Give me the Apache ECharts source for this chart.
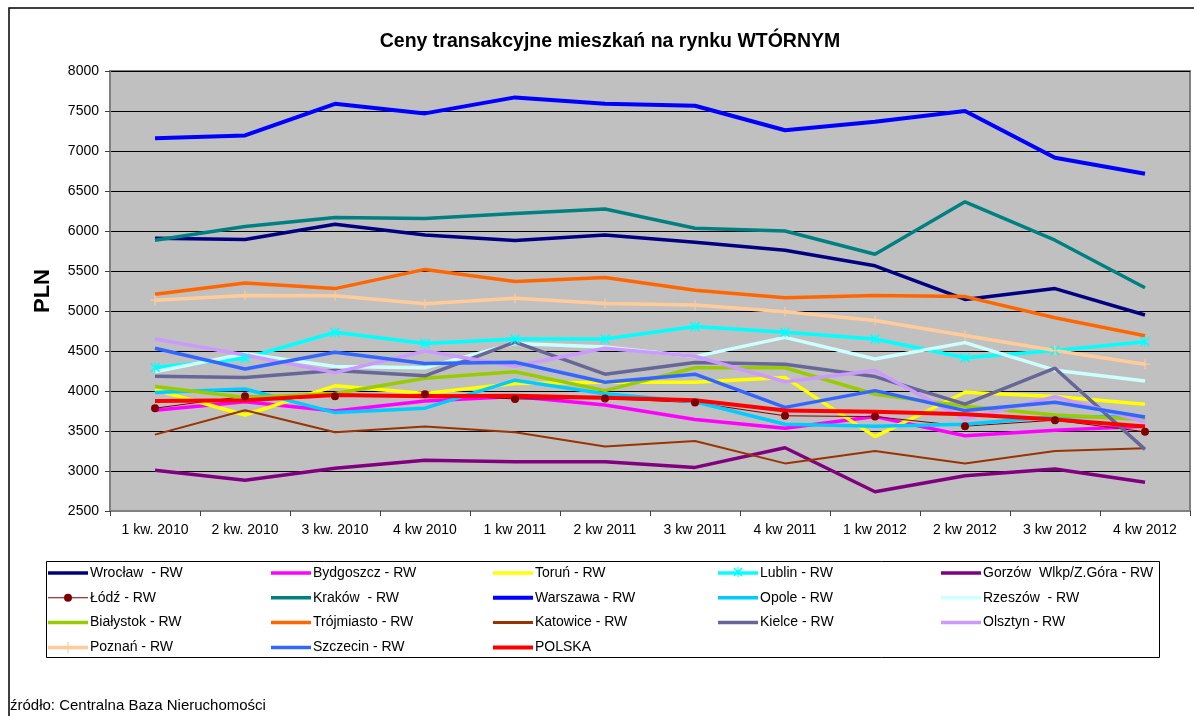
<!DOCTYPE html>
<html>
<head>
<meta charset="utf-8">
<script src="https://cdn.jsdelivr.net/npm/echarts@6/dist/echarts.min.js"></script>
<style>
html,body{margin:0;padding:0;background:#fff;}
#chart{width:1194px;height:716px;}
</style>
</head>
<body>
<div id="chart"></div>
<script>
const categories = ["1 kw. 2010","2 kw. 2010","3 kw. 2010","4 kw 2010","1 kw 2011","2 kw 2011","3 kw 2011","4 kw 2011","1 kw 2012","2 kw 2012","3 kw 2012","4 kw 2012"];
const yTicks = [2500,3000,3500,4000,4500,5000,5500,6000,6500,7000,7500,8000];

const wroclaw    = [5910,5895,6085,5950,5880,5950,5860,5760,5565,5145,5280,4950];
const bydgoszcz  = [3760,3865,3750,3875,3930,3825,3645,3535,3680,3440,3510,3560];
const torun      = [4015,3700,4065,3970,4095,4110,4110,4170,3430,3985,3930,3835];
const lublin     = [4295,4410,4735,4595,4650,4650,4805,4735,4650,4415,4505,4615];
const gorzow     = [3010,2885,3035,3135,3115,3115,3045,3290,2740,2940,3025,2860];
const lodz       = [3785,3935,3935,3960,3900,3905,3855,3690,3680,3560,3635,3490];
const krakow     = [5885,6055,6170,6155,6220,6275,6035,6000,5710,6365,5885,5290];
const warszawa   = [7160,7195,7590,7470,7670,7590,7565,7260,7365,7500,6915,6715];
const opole      = [3980,4025,3730,3785,4135,3965,3865,3585,3560,3585,3680,3675];
const rzeszow    = [4240,4465,4305,4290,4595,4550,4430,4670,4400,4605,4260,4125];
const bialystok  = [4055,3920,3970,4160,4240,4005,4290,4290,3960,3810,3700,3645];
const trojmiasto = [5210,5350,5280,5520,5370,5420,5260,5165,5195,5180,4915,4690];
const katowice   = [3455,3760,3485,3555,3485,3305,3375,3095,3250,3095,3250,3285];
const kielce     = [4185,4170,4255,4190,4610,4210,4355,4335,4180,3835,4285,3270];
const olsztyn    = [4650,4450,4230,4500,4310,4535,4435,4115,4255,3645,3930,3615];
const poznan     = [5135,5195,5190,5090,5160,5095,5075,4990,4880,4695,4505,4335];
const szczecin   = [4535,4275,4485,4345,4360,4110,4210,3795,4005,3755,3860,3675];
const polska     = [3875,3885,3950,3935,3940,3915,3885,3755,3740,3710,3645,3555];

const FONT = 'Liberation Sans, Arial, sans-serif';
const starPath = 'path://M0,1L1,0L10,9L9,10Z M9,0L10,1L1,10L0,9Z M4.5,0H5.5V10H4.5Z';
const plusPath = 'path://M4.4,0H5.6V4.4H10V5.6H5.6V10H4.4V5.6H0V4.4H4.4Z';

// legend icons: 40x14 box with a line in the middle
function lineIcon(w) {
  const a = (7 - w / 2).toFixed(2), b = (7 + w / 2).toFixed(2);
  return 'path://M0,0M40,14M0,' + a + 'H40V' + b + 'H0Z';
}
const iconLodz = 'path://M0,0M40,14M0,6.5H40V7.5H0Z M24,7A4,4 0 1 1 16,7A4,4 0 1 1 24,7Z';
const iconLublin = 'path://M0,0M40,14M0,5.25H40V8.75H0Z M15.5,2.5L16.5,1.5L24.5,9.5L23.5,10.5Z M23.5,1.5L24.5,2.5L16.5,10.5L15.5,9.5Z M19.5,1H20.5V11H19.5Z';
const iconPoznan = 'path://M0,0M40,14M0,5.25H40V8.75H0Z M19.4,1.5H20.6V12.5H19.4Z';

function line(name, data, color, width, extra) {
  return Object.assign({
    name: name, type: 'line', data: data, color: color,
    lineStyle: {color: color, width: width},
    itemStyle: {color: color},
    symbol: 'none', showSymbol: false,
    emphasis: {disabled: true}, silent: true,
    _icon: lineIcon(width)
  }, extra || {});
}

const series = [
  line('Wrocław  - RW', wroclaw, '#000080', 3.5),
  line('Bydgoszcz - RW', bydgoszcz, '#FF00FF', 3.5),
  line('Toruń - RW', torun, '#FFFF00', 3.5),
  line('Lublin - RW', lublin, '#00FFFF', 3.5, {symbol: starPath, showSymbol: true, symbolSize: 10, _icon: iconLublin}),
  line('Gorzów  Wlkp/Z.Góra - RW', gorzow, '#800080', 3.5),
  line('Łódź - RW', lodz, '#800000', 1, {symbol: 'circle', showSymbol: true, symbolSize: 8, _icon: iconLodz}),
  line('Kraków  - RW', krakow, '#008080', 3.5),
  line('Warszawa - RW', warszawa, '#0000FF', 4),
  line('Opole - RW', opole, '#00CCFF', 3.5),
  line('Rzeszów  - RW', rzeszow, '#CCFFFF', 3.5),
  line('Białystok - RW', bialystok, '#99CC00', 3.5),
  line('Trójmiasto - RW', trojmiasto, '#FF6600', 3.5),
  line('Katowice - RW', katowice, '#993300', 2, {_icon: lineIcon(3)}),
  line('Kielce - RW', kielce, '#666699', 3.5),
  line('Olsztyn - RW', olsztyn, '#CC99FF', 3.5),
  line('Poznań - RW', poznan, '#FFCC99', 3.5, {symbol: plusPath, showSymbol: true, symbolSize: 10, _icon: iconPoznan}),
  line('Szczecin - RW', szczecin, '#3366FF', 3.5),
  line('POLSKA', polska, '#FF0000', 4)
];

const legendItems = series.map(s => ({name: s.name, icon: s._icon}));
series.forEach(s => { delete s._icon; });

const colX = [48, 271, 493, 718, 941];
const legends = colX.map((x, c) => ({
  orient: 'vertical', left: x, top: 566,
  itemWidth: 40, itemHeight: 14, itemGap: 10.8,
  padding: 0,
  data: legendItems.filter((n, i) => i % 5 === c),
  textStyle: {fontFamily: FONT, fontSize: 14, color: '#000', padding: [0,0,0,-3]},
  selectedMode: false
}));

const chart = echarts.init(document.getElementById('chart'));
chart.setOption({
  animation: false,
  backgroundColor: '#fff',
  title: {
    text: 'Ceny transakcyjne mieszkań na rynku WTÓRNYM',
    left: 605, top: 27, textAlign: 'center',
    textStyle: {fontFamily: FONT, fontSize: 19.5, fontWeight: 'bold', color: '#000'}
  },
  legend: legends,
  grid: {
    left: 110, right: 4, top: 71, bottom: 205,
    show: true, backgroundColor: '#C0C0C0', borderColor: '#808080', borderWidth: 2
  },
  xAxis: {
    type: 'category', data: categories, boundaryGap: true,
    axisLine: {lineStyle: {color: '#808080', width: 2}},
    axisTick: {show: true, interval: 0, length: 5, lineStyle: {color: '#404040'}},
    axisLabel: {interval: 0, margin: 12, fontFamily: FONT, fontSize: 14, color: '#000'},
    splitLine: {show: false}
  },
  yAxis: {
    type: 'value', min: yTicks[0], max: yTicks[yTicks.length-1], interval: 500,
    name: 'PLN', nameLocation: 'middle', nameRotate: 90, nameGap: 56,
    nameTextStyle: {fontFamily: FONT, fontSize: 22, fontWeight: 'bold', color: '#000'},
    axisLine: {show: true, lineStyle: {color: '#808080', width: 2}},
    axisTick: {show: true, length: 5, lineStyle: {color: '#404040'}},
    axisLabel: {margin: 11, fontFamily: FONT, fontSize: 14, color: '#000', formatter: v => String(v)},
    splitLine: {show: true, lineStyle: {color: '#000', width: 1}}
  },
  graphic: [
    {type: 'rect', shape: {x: 9, y: 8, width: 1200, height: 720}, style: {fill: null, stroke: '#000', lineWidth: 1.5}, silent: true, z: -10},
    {type: 'rect', shape: {x: 46.5, y: 561.5, width: 1113, height: 96}, style: {fill: null, stroke: '#000', lineWidth: 1}, silent: true},
    {type: 'text', left: 10, top: 698, style: {text: 'źródło: Centralna Baza Nieruchomości', font: '15px ' + FONT, fill: '#000'}, silent: true}
  ],
  series: series
});
</script>
</body>
</html>
